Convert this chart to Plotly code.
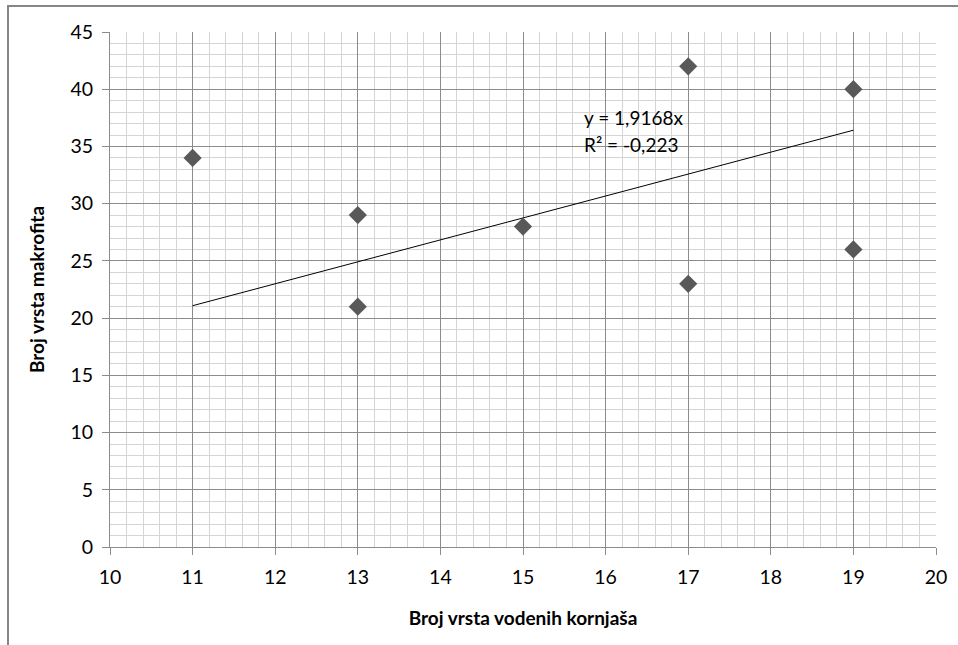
import plotly.graph_objects as go

# Data
x_vals = [11, 13, 13, 15, 17, 17, 19, 19]
y_vals = [34, 29, 21, 28, 42, 23, 40, 26]
slope = 1.9168
trend_x = [11, 19]
trend_y = [slope * v for v in trend_x]
eq_text = "y = 1,9168x"
r2_text = "R² = -0,223"
x_title = "Broj vrsta vodenih kornjaša"
y_title = "Broj vrsta makrofita"

FONT = "Lato"

fig = go.Figure()
fig.add_trace(go.Scatter(
    x=trend_x, y=trend_y, mode="lines",
    line=dict(color="#000000", width=1), showlegend=False, hoverinfo="skip"))
fig.add_trace(go.Scatter(
    x=x_vals, y=y_vals, mode="markers",
    marker=dict(symbol="diamond", size=14, color="#595959"),
    showlegend=False))

fig.add_annotation(x=15.72, y=37.5, text=eq_text, showarrow=False,
                   xanchor="left", yanchor="middle",
                   font=dict(family=FONT, size=19, color="#000000"))
fig.add_annotation(x=15.72, y=35.2, text=r2_text, showarrow=False,
                   xanchor="left", yanchor="middle",
                   font=dict(family=FONT, size=19, color="#000000"))

# outer chart frame (cropped on right/bottom)
fig.add_shape(type="rect", xref="paper", yref="paper",
              x0=-0.1235, x1=1.3, y0=-0.5, y1=1.0505,
              line=dict(color="#868686", width=2), layer="below")

fig.update_layout(
    width=958, height=645,
    margin=dict(l=110, r=22, t=32, b=98, pad=0),
    paper_bgcolor="white", plot_bgcolor="white",
    font=dict(family=FONT, size=19, color="#000000"),
    xaxis=dict(
        range=[10, 20], dtick=1, tick0=10,
        showgrid=True, gridcolor="#8c8c8c", gridwidth=1,
        minor=dict(dtick=0.2, showgrid=True, gridcolor="#d4d4d4", gridwidth=1),
        ticks="outside", ticklen=7, tickcolor="#8c8c8c",
        showline=True, linecolor="#8c8c8c", linewidth=1, mirror=False,
        zeroline=False, ticklabelstandoff=6,
        tickfont=dict(family=FONT, size=19.5, color="#000000"),
        title=dict(text="<b>" + x_title + "</b>", standoff=24,
                   font=dict(family=FONT, size=19, color="#000000")),
    ),
    yaxis=dict(
        range=[0, 45], dtick=5, tick0=0,
        showgrid=True, gridcolor="#8c8c8c", gridwidth=1,
        minor=dict(dtick=1, showgrid=True, gridcolor="#d4d4d4", gridwidth=1),
        ticks="outside", ticklen=7, tickcolor="#8c8c8c",
        showline=True, linecolor="#8c8c8c", linewidth=1,
        zeroline=False, ticklabelstandoff=5,
        tickfont=dict(family=FONT, size=19.5, color="#000000"),
        title=dict(text="<b>" + y_title + "</b>", standoff=20,
                   font=dict(family=FONT, size=19, color="#000000")),
    ),
)

fig.write_html("out.html", config={"displayModeBar": False},
               post_script="document.body.style.margin='0';")
